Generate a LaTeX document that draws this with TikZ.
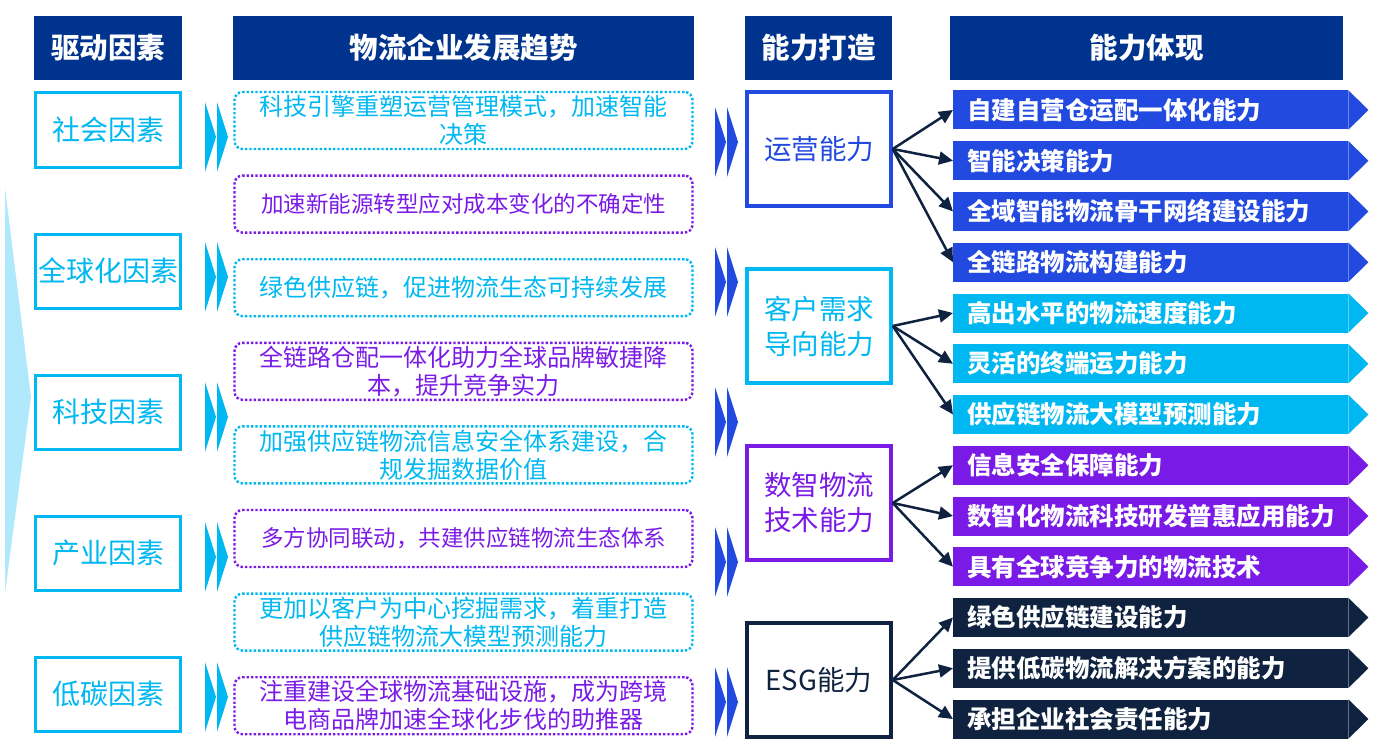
\documentclass[tikz,border=0pt]{standalone}
\usepackage{fontspec}
\setmainfont{Noto Sans CJK SC}
\usetikzlibrary{arrows.meta}

\definecolor{hdblue}{RGB}{0,51,141}
\definecolor{skyc}{RGB}{0,184,241}
\definecolor{pale}{RGB}{176,233,251}
\definecolor{opblue}{RGB}{34,73,224}
\definecolor{purp}{RGB}{122,26,230}
\definecolor{navy}{RGB}{15,35,64}

\begin{document}
\begin{tikzpicture}[x=1pt,y=-1pt,
    head/.style={fill=hdblue,text=white,inner sep=0pt,minimum height=64pt,
        font=\bfseries\fontsize{28.5}{30}\selectfont},
    factor/.style={draw=skyc,line width=3pt,fill=white,text=skyc,inner sep=0pt,
        minimum width=145pt,minimum height=74pt,font=\fontsize{28}{30}\selectfont},
    trend/.style={draw=#1,text=#1,line width=2.4pt,dash pattern=on 2.4pt off 2pt,
        rounded corners=8pt,inner sep=0pt,minimum width=458pt,minimum height=57pt,
        align=center,font=\fontsize{24}{28}\selectfont},
    narrow/.style={font=\fontsize{22.5}{28}\selectfont},
    ability/.style={draw=#1,text=#1,line width=3.5pt,fill=white,inner sep=0pt,
        minimum width=144pt,minimum height=114pt,align=center,
        font=\fontsize{27.5}{35}\selectfont},
    banner/.style={fill=#1,text=white,anchor=west,inner sep=0pt,inner xsep=14pt,
        minimum height=39pt,text width=367pt,align=left,
        font=\bfseries\fontsize{24.5}{28}\selectfont},
    link/.style={draw=navy,line width=2.5pt,-{Triangle[length=14pt,width=13pt]}}
]

    \useasboundingbox (0,0) rectangle (1373,749);

    % Column headers
    \node[head,minimum width=148pt] (h1) at (108,48) {驱动因素};
    \node[head,minimum width=461pt] (h2) at (463.5,48) {物流企业发展趋势};
    \node[head,minimum width=147pt] (h3) at (818.5,48) {能力打造};
    \node[head,minimum width=393pt] (h4) at (1146.5,48) {能力体现};

    % Pale wedge behind the factors
    \fill[pale] (5,188) -- (31,397) -- (5,593) -- cycle;

    % Driving factors
    \foreach \i/\y/\txt in {
        1/130/社会因素,
        2/271/全球化因素,
        3/412/科技因素,
        4/553/产业因素,
        5/694/低碳因素
    } {
        \node[factor] (f\i) at (108,\y) {\txt};
    }

    % Double chevrons
    \foreach \y in {137,277,417,557,697} {
        \foreach \dx in {0,12}
            \fill[skyc] (205+\dx,\y-35) -- (216+\dx,\y) -- (205+\dx,\y+35) -- cycle;
    }
    \foreach \y in {142,282,422,562,702} {
        \foreach \dx in {0,12}
            \fill[opblue] (715+\dx,\y-35) -- (726+\dx,\y) -- (715+\dx,\y+35) -- cycle;
    }

    % Development trends
    \node[trend=skyc] (t1) at (463.5,120.5) {科技引擎重塑运营管理模式，加速智能\\决策};
    \node[trend=purp,narrow] (t2) at (463.5,204.1) {加速新能源转型应对成本变化的不确定性};
    \node[trend=skyc] (t3) at (463.5,287.7) {绿色供应链，促进物流生态可持续发展};
    \node[trend=purp] (t4) at (463.5,371.3) {全链路仓配一体化助力全球品牌敏捷降\\本，提升竞争实力};
    \node[trend=skyc] (t5) at (463.5,454.9) {加强供应链物流信息安全体系建设，合\\规发掘数据价值};
    \node[trend=purp,narrow] (t6) at (463.5,538.5) {多方协同联动，共建供应链物流生态体系};
    \node[trend=skyc] (t7) at (463.5,622.1) {更加以客户为中心挖掘需求，着重打造\\供应链物流大模型预测能力};
    \node[trend=purp] (t8) at (463.5,705.7) {注重建设全球物流基础设施，成为跨境\\电商品牌加速全球化步伐的助推器};

    % Capabilities
    \node[ability=opblue] (op) at (819,149) {运营能力};
    \node[ability=skyc] (cu) at (819,326) {客户需求\\导向能力};
    \node[ability=purp] (dg) at (819,503) {数智物流\\技术能力};
    \node[ability=navy] (esg) at (819,680) {ESG能力};

    % Capability banners
    \foreach \i/\col/\txt in {
        1/opblue/自建自营仓运配一体化能力,
        2/opblue/智能决策能力,
        3/opblue/全域智能物流骨干网络建设能力,
        4/opblue/全链路物流构建能力,
        5/skyc/高出水平的物流速度能力,
        6/skyc/灵活的终端运力能力,
        7/skyc/供应链物流大模型预测能力,
        8/purp/信息安全保障能力,
        9/purp/数智化物流科技研发普惠应用能力,
        10/purp/具有全球竞争力的物流技术,
        11/navy/绿色供应链建设能力,
        12/navy/提供低碳物流解决方案的能力,
        13/navy/承担企业社会责任能力
    } {
        \node[banner=\col] (b\i) at (953,{110+50.75*(\i-1)}) {\txt};
        \fill[\col] (b\i.north east) -- ([xshift=20pt]b\i.east) -- (b\i.south east) -- cycle;
    }

    % Arrows from capabilities to banners
    \foreach \a/\bl in {op/{1,2,3,4},cu/{5,6,7},dg/{8,9,10},esg/{11,12,13}} {
        \foreach \j in \bl
            \draw[link] (\a.east) -- (b\j.west);
    }

\end{tikzpicture}
\end{document}
